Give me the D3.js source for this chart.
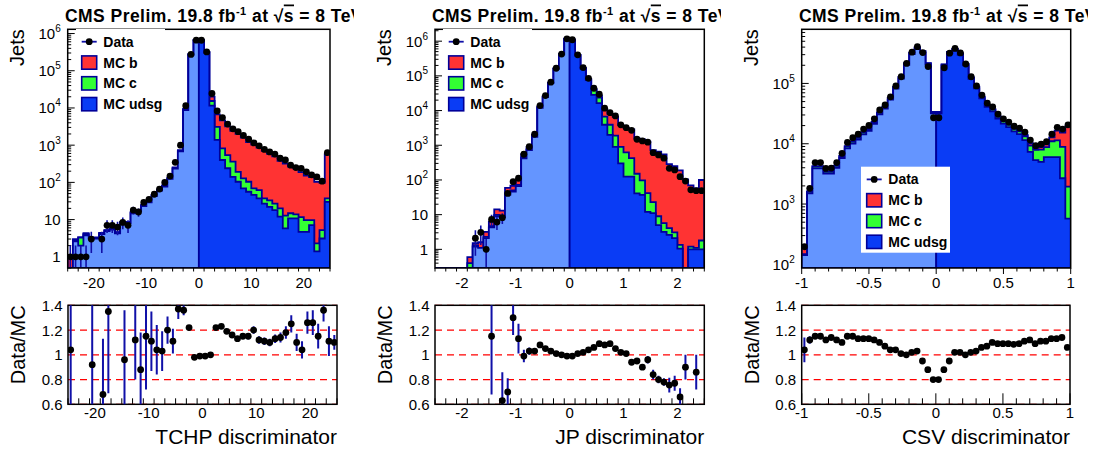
<!DOCTYPE html>
<html>
<head>
<meta charset="utf-8">
<script src="https://cdn.jsdelivr.net/npm/d3@7"></script>
<style>
body { margin: 0; background: #fff; }
svg text { font-family: "Liberation Sans", Arial, Helvetica, sans-serif; }
</style>
</head>
<body>
<div id="chart"></div>
<script>
// ---- values (50 bins per discriminator) ----
var tchpTicks = [-20, -10, 0, 10, 20];
var tchpData = [1, 1, 1, 1, 3, 0, 3, 7, 7, 6.3, 8.4, 7, 18, 16, 29, 35, 48, 66, 100, 148, 345, 1000, 11500, 275000, 665000, 660000, 320000, 24500, 8300, 5500, 3700, 2750, 2300, 1830, 1450, 1150, 960, 770, 660, 575, 445, 400, 290, 250, 238, 192, 160, 140, 108, 630];
var tchpUdsg = [0.3, 2.6, 2.0, 3.8, 3.1, 3.1, 4.1, 4.9, 5.4, 4.3, 8.1, 8.1, 14.8, 16.8, 23, 29, 43, 60, 77, 124, 235, 680, 8800, 272000, 652000, 655000, 308000, 11500, 1380, 400, 240, 141, 104, 69, 56, 46, 37, 27, 22, 18, 12, 5.8, 10.8, 10.8, 4.7, 4.7, 7.1, 1.4, 3.1, 30];
var tchpC = [0, 0.2, 1.3, 0.3, 0.1, 0.1, 0.2, 0.2, 0.2, 0.2, 0.3, 0.3, 0.6, 0.6, 1, 1.2, 1.5, 2, 3, 4, 8, 25, 300, 5000, 10000, 9000, 8000, 3900, 1720, 420, 300, 219, 88, 59, 48, 23, 25, 10, 11, 9, 8, 7, 4, 3, 7, 5, 2.6, 0.9, 2.1, 7];
var tchpB = [0.66, 0.2, 0, 0.2, 0.1, 0.1, 0.1, 0.1, 0.2, 0.1, 0.3, 0.3, 0.6, 0.6, 1, 1.3, 1.5, 2, 3, 5, 9, 30, 300, 3000, 8000, 3000, 4000, 4700, 3650, 3800, 2650, 2070, 1810, 1460, 1100, 960, 800, 663, 551, 477, 357, 307, 249, 226, 177, 142, 129, 101, 92, 536];
var tchpRatio = [1.04, null, null, null, 0.92, null, 0.68, 1.35, null, null, 0.96, null, 1.12, 0.88, 1.15, 1.11, 1.04, 1.03, 1.20, 1.11, 1.37, 1.36, 1.22, 0.98, 0.99, 0.99, 1.00, 1.22, 1.23, 1.19, 1.16, 1.13, 1.15, 1.15, 1.20, 1.12, 1.11, 1.10, 1.13, 1.14, 1.18, 1.25, 1.10, 1.04, 1.26, 1.26, 1.15, 1.36, 1.11, 1.10];
var tchpRatioErr = [0.8, 0, 0, 0, 0.6, 0, 0.45, 0.66, 0, 0, 0.40, 0, 0.32, 0.30, 0.43, 0.24, 0.20, 0.16, 0.11, 0.10, 0.08, 0.04, 0.015, 0.005, 0.005, 0.005, 0.005, 0.01, 0.01, 0.015, 0.015, 0.02, 0.02, 0.025, 0.03, 0.03, 0.03, 0.03, 0.035, 0.04, 0.05, 0.07, 0.07, 0.07, 0.09, 0.10, 0.10, 0.09, 0.12, 0.06];

var jpTicks = [-2, -1, 0, 1, 2];
var jpData = [0, 0, 0, 0, 0, 0, 0, 2.1, 3.1, 1.0, 7.3, 6.1, 8.2, 41, 89, 112, 550, 910, 2080, 13900, 27000, 66000, 166000, 424000, 1170000, 1100000, 403000, 174000, 85000, 44000, 29500, 11700, 8700, 7000, 3870, 3220, 2700, 1490, 1330, 1230, 610, 525, 425, 217, 194, 124, 93, 52, 49, 49];
var jpUdsg = [0, 0, 0, 0, 0, 0, 0.15, 1.2, 1.1, 2.1, 4.3, 9, 8.5, 38, 46, 66, 420, 720, 1750, 12000, 24500, 62000, 160000, 415000, 1150000, 1080000, 386000, 162000, 75000, 28300, 16300, 3900, 2000, 900, 300, 124, 124, 41, 37, 12, 11, 5, 3.2, 2.6, 2.1, 1.05, 0.1, 1.0, 1.0, 1.0];
var jpC = [0, 0, 0, 0, 0, 0, 0.25, 0.1, 0, 0.2, 0.4, 0.8, 0.5, 3, 4, 6, 35, 50, 100, 500, 700, 1200, 2500, 6000, 20000, 20000, 9000, 5000, 4000, 12000, 7400, 2800, 1900, 1000, 600, 500, 300, 110, 60, 30, 12, 4, 2.5, 1.5, 1, 0.3, 0, 0.2, 0.1, 0.8];
var jpB = [0, 0, 0, 0, 0, 0, 0.2, 0.2, 0.5, 0.9, 1.6, 4.4, 4, 18, 18, 27, 100, 110, 170, 400, 500, 800, 1500, 3000, 10000, 10000, 5000, 3000, 2700, 1200, 3300, 4100, 4100, 4770, 2890, 2566, 2446, 1419, 1383, 1238, 703, 647, 539, 283, 249, 187, 103, 69, 56, 98];
var jpRatio = [null, null, null, null, null, null, null, null, null, null, 1.15, null, 0.63, 0.70, 1.30, 1.13, 0.99, 1.03, 1.03, 1.08, 1.05, 1.03, 1.01, 1.00, 0.99, 0.99, 1.01, 1.02, 1.04, 1.06, 1.09, 1.08, 1.09, 1.05, 1.02, 1.01, 0.94, 0.95, 0.90, 0.96, 0.84, 0.80, 0.78, 0.755, 0.77, 0.66, 0.90, null, 0.86, null];
var jpRatioErr = [0, 0, 0, 0, 0, 0, 0, 0, 0, 0, 0.47, 0, 0.23, 0.11, 0.14, 0.12, 0.05, 0.03, 0.01, 0.01, 0.01, 0.01, 0.01, 0.01, 0.01, 0.01, 0.01, 0.01, 0.01, 0.01, 0.01, 0.01, 0.01, 0.01, 0.01, 0.01, 0.015, 0.02, 0.02, 0.03, 0.04, 0.03, 0.03, 0.06, 0.06, 0.07, 0.1, 0, 0.14, 0];

var csvTicks = [-1, -0.5, 0, 0.5, 1];
var csvData = [196, 1820, 4870, 4870, 3900, 3950, 4870, 6930, 10500, 12600, 14400, 17500, 20100, 25900, 36300, 43900, 60000, 91000, 129000, 215000, 330000, 407000, 325000, 190000, 27000, 27000, 182000, 317000, 380000, 320000, 210000, 129000, 91000, 64000, 47000, 41000, 31000, 25900, 22900, 19500, 18200, 15600, 11500, 9300, 9800, 10800, 14400, 18700, 17500, 20600];
var csvUdsg = [143, 1500, 3900, 3900, 3200, 3190, 4000, 5800, 8400, 10100, 11750, 14300, 16400, 21400, 30600, 38100, 53700, 82000, 120000, 203000, 306000, 374000, 324000, 205000, 32000, 32000, 197000, 318000, 354000, 298000, 199000, 119500, 83000, 56500, 40800, 34500, 26000, 21500, 18800, 16000, 14400, 11500, 7350, 5350, 5000, 6000, 6000, 6000, 2680, 575];
var csvC = [5, 100, 270, 270, 225, 220, 280, 400, 590, 700, 800, 960, 1120, 1400, 2000, 2450, 3400, 4800, 6900, 11000, 16000, 19000, 16000, 9500, 1400, 1400, 8500, 14000, 16000, 13500, 9200, 5700, 4200, 3000, 2400, 2200, 2000, 1900, 1800, 1600, 1700, 1800, 2000, 2600, 3000, 2800, 5000, 5400, 6200, 1365];
var csvB = [40, 25, 65, 65, 55, 55, 70, 100, 140, 160, 190, 230, 270, 325, 400, 480, 600, 700, 800, 1000, 1500, 2000, 2000, 1500, 350, 350, 1500, 2000, 2500, 2200, 1800, 1300, 1100, 900, 700, 600, 400, 400, 400, 400, 600, 750, 920, 580, 830, 930, 1740, 5150, 6470, 17490];
var csvRatio = [1.04, 1.12, 1.15, 1.15, 1.12, 1.14, 1.12, 1.10, 1.15, 1.15, 1.13, 1.13, 1.13, 1.12, 1.10, 1.07, 1.04, 1.04, 1.01, 1.00, 1.02, 1.03, 0.95, 0.88, 0.80, 0.80, 0.88, 0.95, 1.02, 1.02, 1.00, 1.02, 1.03, 1.06, 1.07, 1.10, 1.09, 1.09, 1.09, 1.085, 1.09, 1.11, 1.12, 1.09, 1.11, 1.11, 1.13, 1.13, 1.14, 1.06];
var csvRatioErr = [0.1, 0.03, 0.01, 0.01, 0.01, 0.01, 0.01, 0.01, 0.005, 0.005, 0.005, 0.005, 0.005, 0.005, 0.005, 0.005, 0.005, 0.005, 0.005, 0.005, 0.005, 0.005, 0.005, 0.005, 0.005, 0.005, 0.005, 0.005, 0.005, 0.005, 0.005, 0.005, 0.005, 0.005, 0.005, 0.005, 0.005, 0.005, 0.005, 0.005, 0.005, 0.005, 0.005, 0.005, 0.005, 0.005, 0.005, 0.005, 0.005, 0.01];

var ratioTicks = [0.6, 0.8, 1, 1.2, 1.4];
var legendLabels = ["Data", "MC b", "MC c", "MC udsg"];

// ---- layout ----
var colLight = "#6495ff", colDark = "#0a3cf5", colRed = "#ff3333", colGreen = "#33ff33";
var colLine = "#000099", colErr = "#1010a8";
var topY = [29.3, 268], botY = [305.3, 404.3];

var panels = [
    { ox: 0, topX: [67.7, 330], botX: [68, 337], lo: -25, hi: 25, yDom: [0.5, 1.3e6], minorStep: 2,
      ticks: tchpTicks, xlab: "TCHP discriminator", legend: [76, 29],
      data: tchpData, udsg: tchpUdsg, c: tchpC, b: tchpB, ratio: tchpRatio, rerr: tchpRatioErr },
    { ox: 367, topX: [435, 704.3], botX: [435, 704.3], lo: -2.5, hi: 2.5, yDom: [0.29, 2.2e6], minorStep: 0.2,
      ticks: jpTicks, xlab: "JP discriminator", legend: [443, 29],
      data: jpData, udsg: jpUdsg, c: jpC, b: jpB, ratio: jpRatio, rerr: jpRatioErr },
    { ox: 734, topX: [801.7, 1070.7], botX: [801.7, 1070], lo: -1, hi: 1, yDom: [87, 7.9e5], minorStep: 0.1,
      ticks: csvTicks, xlab: "CSV discriminator", legend: [861, 166.7],
      data: csvData, udsg: csvUdsg, c: csvC, b: csvB, ratio: csvRatio, rerr: csvRatioErr }
];

var svg = d3.select("#chart").append("svg")
    .attr("width", 1094)
    .attr("height", 450);

var defs = svg.append("defs");

function stepPath(vals, xs, ys, i0, i1, lo, w, ymin) {
    var yb = ys.range()[0];
    var p = "M" + xs(lo + i0 * w) + "," + yb;
    for (var i = i0; i < i1; i++) {
        var y = ys(Math.max(vals[i], ymin));
        p += "L" + xs(lo + i * w) + "," + y + "L" + xs(lo + (i + 1) * w) + "," + y;
    }
    return p + "L" + xs(lo + i1 * w) + "," + yb + "Z";
}

panels.forEach(function(p, k) {
    var n = p.data.length;
    var w = (p.hi - p.lo) / n;
    var g = svg.append("g");

    var xTop = d3.scaleLinear().domain([p.lo, p.hi]).range(p.topX);
    var yTop = d3.scaleLog().domain(p.yDom).range([topY[1], topY[0]]);
    var xBot = d3.scaleLinear().domain([p.lo, p.hi]).range(p.botX);
    var yBot = d3.scaleLinear().domain([0.6, 1.4]).range([botY[1], botY[0]]);

    defs.append("clipPath").attr("id", "ct" + k).append("rect")
        .attr("x", p.topX[0]).attr("y", topY[0])
        .attr("width", p.topX[1] - p.topX[0]).attr("height", topY[1] - topY[0]);
    defs.append("clipPath").attr("id", "cb" + k).append("rect")
        .attr("x", p.botX[0]).attr("y", botY[0])
        .attr("width", p.botX[1] - p.botX[0]).attr("height", botY[1] - botY[0]);
    defs.append("clipPath").attr("id", "cti" + k).append("rect")
        .attr("x", p.ox).attr("y", 0).attr("width", 354).attr("height", 30);

    // log y ticks (inside, under the histograms)
    var yMin = p.yDom[0], yMax = p.yDom[1];
    var dLo = Math.floor(Math.log10(yMin)), dHi = Math.ceil(Math.log10(yMax));
    for (var d = dLo; d <= dHi; d++) {
        for (var m = 1; m <= 9; m++) {
            var v = m * Math.pow(10, d);
            if (v < yMin || v > yMax) continue;
            g.append("line")
                .attr("x1", p.topX[0]).attr("x2", p.topX[0] + (m == 1 ? 7 : 3.5))
                .attr("y1", yTop(v)).attr("y2", yTop(v))
                .attr("stroke", "#000").attr("stroke-width", 1);
        }
        var dv = Math.pow(10, d);
        if (dv >= yMin && dv <= yMax) {
            var lab = g.append("text")
                .attr("x", p.topX[0] - 7).attr("y", yTop(dv) + 5.5)
                .attr("text-anchor", "end").attr("font-size", 15);
            if (d == 0) lab.text("1");
            else if (d == 1) lab.text("10");
            else {
                lab.append("tspan").text("10");
                lab.append("tspan").attr("dy", -7).attr("font-size", 10).text(d);
            }
        }
    }

    // stacked MC histograms
    var rows = p.udsg.map(function(u, i) { return { udsg: u, c: p.c[i], b: p.b[i] }; });
    var series = d3.stack().keys(["udsg", "c", "b"])(rows);
    var tops = series.map(function(s) { return s.map(function(e) { return e[1]; }); });
    var hg = g.append("g").attr("clip-path", "url(#ct" + k + ")");
    var half = n / 2;
    var layers = [
        [tops[2], 0, n, colRed],
        [tops[1], 0, n, colGreen],
        [tops[0], 0, half, colLight],
        [tops[0], half, n, colDark]
    ];
    layers.forEach(function(L) {
        hg.append("path")
            .attr("d", stepPath(L[0], xTop, yTop, L[1], L[2], p.lo, w, yMin))
            .attr("fill", L[3])
            .attr("stroke", colLine)
            .attr("stroke-width", 1.8)
            .attr("stroke-linejoin", "miter");
    });

    // data points with poisson errors
    p.data.forEach(function(v, i) {
        if (!(v > 0)) return;
        var cx = xTop(p.lo + (i + 0.5) * w);
        var e = Math.sqrt(v);
        hg.append("line")
            .attr("x1", cx).attr("x2", cx)
            .attr("y1", yTop(Math.max(v - e, yMin))).attr("y2", yTop(Math.min(v + e, yMax)))
            .attr("stroke", colErr).attr("stroke-width", 1.6);
        hg.append("circle").attr("cx", cx).attr("cy", yTop(v)).attr("r", 3.4).attr("fill", "#000");
    });

    // frame + x ticks for top pad
    g.append("rect")
        .attr("x", p.topX[0]).attr("y", topY[0])
        .attr("width", p.topX[1] - p.topX[0]).attr("height", topY[1] - topY[0])
        .attr("fill", "none").attr("stroke", "#000").attr("stroke-width", 1.5);
    var minors = d3.range(Math.round((p.hi - p.lo) / p.minorStep) + 1).map(function(j) {
        return +(p.lo + j * p.minorStep).toFixed(6);
    });
    minors.forEach(function(v) {
        var major = p.ticks.some(function(t) { return Math.abs(t - v) < 1e-6; });
        g.append("line")
            .attr("x1", xTop(v)).attr("x2", xTop(v))
            .attr("y1", topY[1]).attr("y2", topY[1] + (major ? 6 : 3.5))
            .attr("stroke", "#000").attr("stroke-width", 1);
        g.append("line")
            .attr("x1", xBot(v)).attr("x2", xBot(v))
            .attr("y1", botY[1]).attr("y2", botY[1] - (major ? 11 : 6))
            .attr("stroke", "#000").attr("stroke-width", 1);
    });
    p.ticks.forEach(function(t) {
        g.append("text").attr("x", xTop(t)).attr("y", 288)
            .attr("text-anchor", "middle").attr("font-size", 15).text(t);
        g.append("text").attr("x", xBot(t)).attr("y", 418)
            .attr("text-anchor", "middle").attr("font-size", 15).text(t);
    });

    // legend
    var lx = p.legend[0], ly = p.legend[1];
    g.append("rect").attr("x", lx).attr("y", ly).attr("width", 89).attr("height", 86).attr("fill", "#fff");
    var swFill = [null, colRed, colGreen, colDark];
    legendLabels.forEach(function(name, j) {
        var cy = ly + 12.7 + j * 20.8;
        if (j == 0) {
            g.append("line").attr("x1", lx + 5.7).attr("x2", lx + 20.7).attr("y1", cy).attr("y2", cy)
                .attr("stroke", colErr).attr("stroke-width", 1.8);
            g.append("circle").attr("cx", lx + 13.2).attr("cy", cy).attr("r", 3.4).attr("fill", "#000");
        } else {
            g.append("rect").attr("x", lx + 5.7).attr("y", cy - 6.6).attr("width", 15).attr("height", 13.3)
                .attr("fill", swFill[j]).attr("stroke", colLine).attr("stroke-width", 1.6);
        }
        g.append("text").attr("x", lx + 27.3).attr("y", cy + 5)
            .attr("font-size", 14).attr("font-weight", "bold").text(name);
    });

    // title (the pad edge cuts the end, as in the original)
    var t = g.append("text").attr("x", p.ox + 65).attr("y", 21.5)
        .attr("font-size", 17.5).attr("font-weight", "bold")
        .attr("letter-spacing", 0.45)
        .attr("clip-path", "url(#cti" + k + ")");
    t.append("tspan").text("CMS Prelim. 19.8 fb");
    t.append("tspan").attr("dy", -7).attr("font-size", 11).text("-1");
    t.append("tspan").attr("dy", 7).text(" at ");
    t.append("tspan").text("\u221A");
    t.append("tspan").style("text-decoration", "overline").text("s");
    t.append("tspan").text(" = 8 TeV");

    g.append("text")
        .attr("transform", "translate(" + (p.ox + 24) + "," + topY[0] + ") rotate(-90)")
        .attr("text-anchor", "end").attr("font-size", 20).text("Jets");

    // ratio pad
    ratioTicks.forEach(function(r) {
        g.append("line")
            .attr("x1", p.botX[0]).attr("x2", p.botX[1])
            .attr("y1", yBot(r)).attr("y2", yBot(r))
            .attr("stroke", "#ff0000").attr("stroke-width", 1.3)
            .attr("stroke-dasharray", "7,5");
        g.append("text").attr("x", p.botX[0] - 5.5).attr("y", yBot(r) + 5.5)
            .attr("text-anchor", "end").attr("font-size", 15).text(r);
    });
    g.append("rect")
        .attr("x", p.botX[0]).attr("y", botY[0])
        .attr("width", p.botX[1] - p.botX[0]).attr("height", botY[1] - botY[0])
        .attr("fill", "none").attr("stroke", "#000").attr("stroke-width", 1.5);
    var rg = g.append("g").attr("clip-path", "url(#cb" + k + ")");
    p.ratio.forEach(function(r, i) {
        if (r === null) return;
        var cx = xBot(p.lo + (i + 0.5) * w);
        var e = p.rerr[i];
        if (e > 0) {
            rg.append("line").attr("x1", cx).attr("x2", cx)
                .attr("y1", yBot(r - e)).attr("y2", yBot(r + e))
                .attr("stroke", colErr).attr("stroke-width", 2);
        }
        rg.append("circle").attr("cx", cx).attr("cy", yBot(r)).attr("r", 3.4).attr("fill", "#000");
    });

    g.append("text")
        .attr("transform", "translate(" + (p.ox + 25) + "," + botY[0] + ") rotate(-90)")
        .attr("text-anchor", "end").attr("font-size", 20).text("Data/MC");
    g.append("text").attr("x", p.botX[1]).attr("y", 444)
        .attr("text-anchor", "end").attr("font-size", 21).text(p.xlab);
});
</script>
</body>
</html>
